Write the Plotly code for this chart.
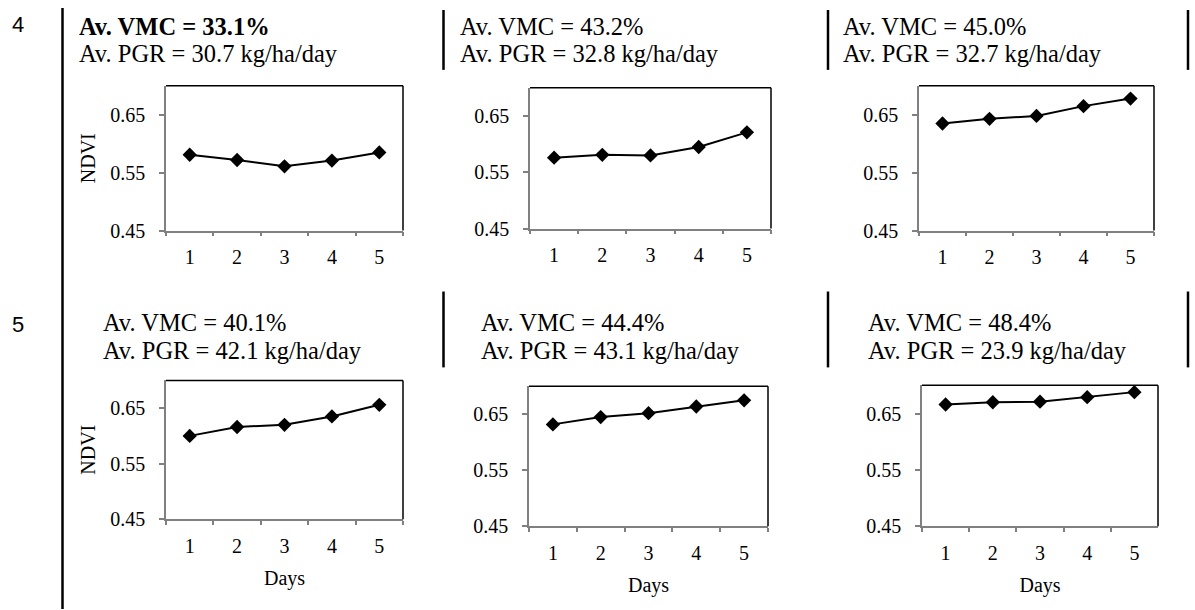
import plotly.graph_objects as go

W, H = 1195, 610        # target picture size
FIG_H = 620             # layout height (the photographed page is squeezed to 610)

days = ["1", "2", "3", "4", "5"]

ndvi_p1 = [0.581, 0.572, 0.561, 0.571, 0.585]
ndvi_p2 = [0.576, 0.581, 0.580, 0.595, 0.621]
ndvi_p3 = [0.635, 0.643, 0.648, 0.665, 0.678]
ndvi_p4 = [0.600, 0.616, 0.620, 0.635, 0.656]
ndvi_p5 = [0.632, 0.645, 0.652, 0.664, 0.675]
ndvi_p6 = [0.666, 0.670, 0.671, 0.679, 0.688]

vmc_labels = ["Av. VMC = 33.1%", "Av. VMC = 43.2%", "Av. VMC = 45.0%",
              "Av. VMC = 40.1%", "Av. VMC = 44.4%", "Av. VMC = 48.4%"]
pgr_labels = ["Av. PGR = 30.7 kg/ha/day", "Av. PGR = 32.8 kg/ha/day",
              "Av. PGR = 32.7 kg/ha/day", "Av. PGR = 42.1 kg/ha/day",
              "Av. PGR = 43.1 kg/ha/day", "Av. PGR = 23.9 kg/ha/day"]
row_labels = ["4", "5"]

y_ticks = [0.45, 0.55, 0.65]
y_range = [0.45, 0.70]

series = [ndvi_p1, ndvi_p2, ndvi_p3, ndvi_p4, ndvi_p5, ndvi_p6]

# plot-area boxes in target pixels: (left, right, top, bottom)
boxes = [(166, 403, 86, 231), (530, 771, 88, 229), (919, 1154, 86, 231),
         (166, 403, 381, 520), (529, 768, 387, 527), (922, 1158, 386, 527)]
# text positions: (x_left, y_line1, y_line2) centres
texts = [(78, 26.5, 53.5), (459, 26.5, 53.5), (842, 26.5, 53.5),
         (102, 323.5, 351), (480, 323.5, 351), (867, 323.5, 351)]

SERIF = "Liberation Serif"
fig = go.Figure()
layout = dict(width=W, height=FIG_H, autosize=False, margin=dict(l=0, r=0, t=0, b=0),
              paper_bgcolor="white", plot_bgcolor="white", showlegend=False,
              font=dict(family=SERIF, color="black"))
shapes = []
annotations = []

for i, (vals, (l, r, t, b)) in enumerate(zip(series, boxes)):
    n = "" if i == 0 else str(i + 1)
    fig.add_trace(go.Scatter(x=days, y=vals, mode="lines+markers",
                             xaxis="x" + n, yaxis="y" + n,
                             line=dict(color="black", width=2),
                             marker=dict(symbol="diamond", size=11, color="black")))
    xa = dict(domain=[l / W, r / W], anchor="y" + n, type="category",
              range=[-0.5, 4.5], tickson="boundaries", ticks="outside",
              ticklen=4, tickcolor="#808080", tickwidth=1.5,
              showline=True, linecolor="#808080", linewidth=1.5,
              showgrid=False, zeroline=False, fixedrange=True,
              tickfont=dict(family=SERIF, size=20, color="black"),
              ticklabelstandoff=8)
    ya = dict(domain=[1 - b / H, 1 - t / H], anchor="x" + n, range=y_range,
              tickvals=y_ticks, ticktext=["%.2f" % v for v in y_ticks],
              ticks="outside", ticklen=5, tickcolor="#808080", tickwidth=1.5,
              showline=True, linecolor="#808080", linewidth=1.5,
              showgrid=False, zeroline=False, fixedrange=True,
              tickfont=dict(family=SERIF, size=20, color="black"),
              ticklabelstandoff=10)
    if i in (0, 3):
        ya["title"] = dict(text="NDVI", font=dict(family=SERIF, size=20), standoff=9)
    if i >= 3:
        xa["title"] = dict(text="Days", font=dict(family=SERIF, size=20), standoff=15)
    layout["xaxis" + n] = xa
    layout["yaxis" + n] = ya
    # black top and right borders of the plot area
    shapes.append(dict(type="line", xref="x" + n + " domain", yref="y" + n + " domain",
                       x0=0, x1=1, y0=1, y1=1, line=dict(color="black", width=1.5)))
    shapes.append(dict(type="line", xref="x" + n + " domain", yref="y" + n + " domain",
                       x0=1, x1=1, y0=0, y1=1, line=dict(color="black", width=1.5)))
    tx, ty1, ty2 = texts[i]
    t1 = "<b>%s</b>" % vmc_labels[i] if i == 0 else vmc_labels[i]
    for txt, yc in ((t1, ty1), (pgr_labels[i], ty2)):
        annotations.append(dict(text=txt, x=tx / W, y=1 - yc / H, xref="paper",
                                yref="paper", xanchor="left", yanchor="middle",
                                borderpad=0, showarrow=False,
                                font=dict(family=SERIF, size=24.5, color="black")))

for lbl, yy in zip(row_labels, [25, 325]):
    annotations.append(dict(text=lbl, x=18 / W, y=1 - yy / H, xref="paper", yref="paper",
                            xanchor="center", yanchor="middle", showarrow=False,
                            font=dict(family="Liberation Sans", size=22, color="black")))

# separator lines
def vline(x, y0, y1):
    shapes.append(dict(type="line", xref="paper", yref="paper",
                       x0=x / W, x1=x / W, y0=1 - y0 / H, y1=1 - y1 / H,
                       line=dict(color="black", width=2.5)))

vline(62.5, 8, 610)
for xx in (443.5, 828, 1188):
    vline(xx, 10, 70)
    vline(xx, 292, 368)

layout["shapes"] = shapes
layout["annotations"] = annotations
fig.update_layout(**layout)
fig.write_html("out.html", config={"displayModeBar": False, "responsive": False},
               post_script=("document.documentElement.style.overflow='hidden';"
                            "document.body.style.margin='0';"
                            "document.body.style.padding='0';"
                            "document.body.style.overflow='hidden';"))
